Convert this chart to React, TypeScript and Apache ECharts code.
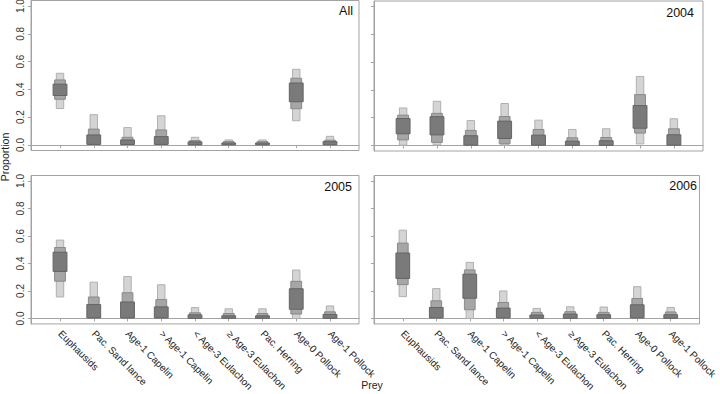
import React, { useEffect, useRef } from "react";
import * as echarts from "echarts";

const categories = [
  "Euphausids",
  "Pac. Sand lance",
  "Age-1 Capelin",
  "> Age-1 Capelin",
  "< Age-3 Eulachon",
  "≥ Age-3 Eulachon",
  "Pac. Herring",
  "Age-0 Pollock",
  "Age-1 Pollock",
];
const panelTitles = ["All", "2004", "2005", "2006"];
const yTicks = [0, 0.2, 0.4, 0.6, 0.8, 1.0];
const xTicks = [1, 2, 3, 4, 5, 6, 7, 8, 9];

// Credible intervals [lower, upper]: outer (light), middle, inner (dark)
const all95 = [[0.262, 0.516], [0.003, 0.218], [0.002, 0.125], [0.003, 0.21], [0.0, 0.055], [0.0, 0.036], [0.0, 0.036], [0.174, 0.545], [0.0, 0.062]];
const all80 = [[0.329, 0.468], [0.003, 0.114], [0.002, 0.055], [0.003, 0.108], [0.0, 0.031], [0.0, 0.024], [0.0, 0.024], [0.261, 0.48], [0.0, 0.034]];
const all50 = [[0.356, 0.438], [0.004, 0.072], [0.003, 0.036], [0.004, 0.06], [0.001, 0.022], [0.001, 0.014], [0.001, 0.014], [0.311, 0.446], [0.001, 0.024]];

const y2004_95 = [[0.002, 0.27], [0.004, 0.318], [0.0, 0.179], [0.002, 0.302], [0.0, 0.182], [0.0, 0.115], [0.0, 0.12], [0.011, 0.497], [0.0, 0.192]];
const y2004_80 = [[0.04, 0.218], [0.022, 0.231], [0.001, 0.108], [0.012, 0.208], [0.001, 0.115], [0.0, 0.055], [0.0, 0.057], [0.089, 0.366], [0.001, 0.12]];
const y2004_50 = [[0.084, 0.194], [0.076, 0.207], [0.002, 0.07], [0.05, 0.175], [0.002, 0.074], [0.001, 0.031], [0.001, 0.034], [0.124, 0.287], [0.002, 0.077]];

const y2005_95 = [[0.156, 0.57], [0.0, 0.264], [0.0, 0.305], [0.0, 0.245], [0.0, 0.079], [0.0, 0.07], [0.0, 0.07], [0.0, 0.352], [0.0, 0.091]];
const y2005_80 = [[0.271, 0.516], [0.002, 0.156], [0.002, 0.187], [0.002, 0.137], [0.0, 0.041], [0.0, 0.036], [0.0, 0.036], [0.032, 0.27], [0.0, 0.048]];
const y2005_50 = [[0.342, 0.482], [0.004, 0.101], [0.004, 0.12], [0.004, 0.084], [0.001, 0.026], [0.001, 0.019], [0.001, 0.019], [0.067, 0.216], [0.001, 0.029]];

const y2006_95 = [[0.159, 0.642], [0.0, 0.217], [0.0, 0.408], [0.0, 0.2], [0.0, 0.073], [0.0, 0.085], [0.0, 0.083], [0.0, 0.231], [0.0, 0.08]];
const y2006_80 = [[0.246, 0.548], [0.002, 0.128], [0.063, 0.353], [0.002, 0.116], [0.0, 0.044], [0.0, 0.049], [0.0, 0.044], [0.002, 0.145], [0.0, 0.047]];
const y2006_50 = [[0.291, 0.476], [0.004, 0.08], [0.147, 0.322], [0.004, 0.075], [0.001, 0.025], [0.001, 0.032], [0.001, 0.027], [0.004, 0.099], [0.001, 0.027]];

const panelData = [
  [all95, all80, all50],
  [y2004_95, y2004_80, y2004_50],
  [y2005_95, y2005_80, y2005_50],
  [y2006_95, y2006_80, y2006_50],
];

const FONT = "Liberation Sans, Arial, Helvetica, sans-serif";
const AXIS_COLOR = "#a3a3a3";

export default function App() {
  const ref = useRef<HTMLDivElement>(null);

  useEffect(() => {
    if (!ref.current) return;
    const chart = echarts.init(ref.current, undefined, { renderer: "svg" });

    const grids = [
      { left: 31, top: 0.5, width: 328, height: 150 },
      { left: 374, top: 1, width: 329, height: 150 },
      { left: 31, top: 175.5, width: 328, height: 150 },
      { left: 374, top: 175.5, width: 329, height: 150 },
    ].map((g) => ({
      ...g,
      show: true,
      borderColor: AXIS_COLOR,
      borderWidth: 1,
      backgroundColor: "transparent",
      containLabel: false,
    }));

    const xAxes = grids.map((_, i) => ({
      type: "value",
      gridIndex: i,
      min: 0.14,
      max: 9.86,
      splitLine: { show: false },
      axisLine: { show: true, lineStyle: { color: AXIS_COLOR } },
      axisTick: { show: true, length: 3, customValues: xTicks, lineStyle: { color: AXIS_COLOR } },
      axisLabel: {
        show: i >= 2,
        customValues: xTicks,
        formatter: (v: number) => categories[Math.round(v) - 1] || "",
        rotate: -45,
        margin: 8,
        fontSize: 10,
        color: "#222",
        fontFamily: FONT,
        hideOverlap: false,
      },
    }));

    const yAxes = grids.map((_, i) => ({
      type: "value",
      gridIndex: i,
      min: -0.04,
      max: 1.04,
      splitLine: { show: false },
      axisLine: { show: true, lineStyle: { color: AXIS_COLOR } },
      axisTick: { show: true, length: 3, customValues: yTicks, lineStyle: { color: AXIS_COLOR } },
      axisLabel: { show: false },
    }));

    const levels = [
      { frac: 0.22, fill: "#d4d4d4", stroke: "#b0b0b0" },
      { frac: 0.32, fill: "#a6a6a6", stroke: "#8a8a8a" },
      { frac: 0.41, fill: "#7a7a7a", stroke: "#646464" },
    ];

    const series = panelData.map((pd, i) => ({
      type: "custom",
      xAxisIndex: i,
      yAxisIndex: i,
      encode: { x: 0, y: [1, 2] },
      data: categories.map((_, j) => [
        j + 1,
        pd[0][j][0], pd[0][j][1],
        pd[1][j][0], pd[1][j][1],
        pd[2][j][0], pd[2][j][1],
      ]),
      renderItem: (params: any, api: any) => {
        const x = api.value(0);
        const unit = api.size([1, 0])[0];
        const children = levels.map((lv, k) => {
          const lo = api.value(1 + k * 2);
          const hi = api.value(2 + k * 2);
          const pTop = api.coord([x, hi]);
          const pBot = api.coord([x, lo]);
          const w = unit * lv.frac;
          return {
            type: "rect",
            shape: {
              x: pTop[0] - w / 2,
              y: pTop[1],
              width: w,
              height: Math.max(pBot[1] - pTop[1], 1.5),
            },
            style: { fill: lv.fill, stroke: lv.stroke, lineWidth: 1 },
          };
        });
        return { type: "group", children };
      },
    }));

    const titlePos = [
      { x: 353, y: 10.5 },
      { x: 694, y: 13 },
      { x: 352, y: 186.5 },
      { x: 697, y: 186 },
    ];

    const graphic: any[] = panelTitles.map((t, i) => ({
      type: "text",
      x: titlePos[i].x,
      y: titlePos[i].y,
      style: {
        text: t,
        font: `12.5px ${FONT}`,
        fill: "#111",
        align: "right",
        verticalAlign: "middle",
      },
    }));
    graphic.push({
      type: "text",
      x: 372,
      y: 385,
      style: { text: "Prey", font: `10.5px ${FONT}`, fill: "#222", align: "center", verticalAlign: "middle" },
    });
    graphic.push({
      type: "text",
      x: 5,
      y: 157,
      rotation: Math.PI / 2,
      style: { text: "Proportion", font: `10.5px ${FONT}`, fill: "#222", align: "center", verticalAlign: "middle" },
    });

    chart.setOption({
      animation: false,
      backgroundColor: "#ffffff",
      grid: grids,
      xAxis: xAxes,
      yAxis: yAxes,
      series,
      graphic,
    });

    // Rotated y tick labels, placed through the axis scale
    const yLabelGraphic: any[] = [];
    [0, 2].forEach((gi) => {
      yTicks.forEach((v) => {
        const p = chart.convertToPixel({ xAxisIndex: gi, yAxisIndex: gi }, [0.14, v]) as number[];
        yLabelGraphic.push({
          type: "text",
          x: p[0] - 11,
          y: p[1],
          rotation: Math.PI / 2,
          style: {
            text: v.toFixed(1),
            font: `10px ${FONT}`,
            fill: "#333",
            align: "center",
            verticalAlign: "middle",
          },
        });
      });
    });
    chart.setOption({ graphic: graphic.concat(yLabelGraphic) });

    return () => chart.dispose();
  }, []);

  return (
    <div
      ref={ref}
      style={{ position: "absolute", left: 0, top: 0, width: 720, height: 394 }}
    />
  );
}
